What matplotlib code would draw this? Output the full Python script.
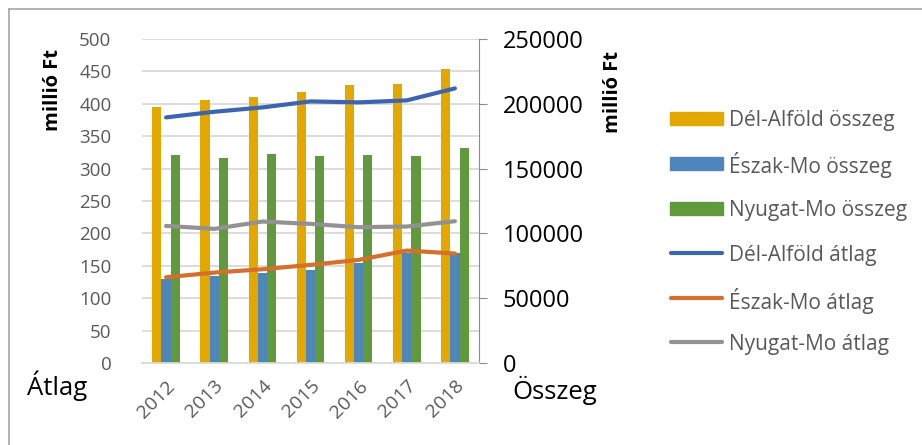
import matplotlib
matplotlib.use("Agg")
import matplotlib.pyplot as plt
import matplotlib.transforms as mtransforms
import numpy as np
from matplotlib.lines import Line2D
from matplotlib.patches import Rectangle

years = ["2012", "2013", "2014", "2015", "2016", "2017", "2018"]
del_alfold_osszeg = [197200, 202600, 205200, 208800, 214200, 215000, 226800]
eszak_mo_osszeg = [64600, 66900, 69800, 71800, 77000, 84700, 84700]
nyugat_mo_osszeg = [160400, 157800, 161200, 159900, 160200, 159600, 166100]
del_alfold_atlag = [379.0, 387.7, 394.4, 403.7, 402.2, 405.3, 423.8]
eszak_mo_atlag = [132.3, 139.5, 144.7, 151.4, 159.1, 173.5, 168.9]
nyugat_mo_atlag = [211.6, 207.0, 218.3, 214.7, 209.6, 210.6, 218.8]

C_YEL = "#E3A800"
C_BLU = "#4E86BC"
C_GRN = "#63993D"
C_LBLU = "#3D64AE"
C_ORA = "#D5702B"
C_GRY = "#929292"
TXT = "#595959"
FONT = "Open Sans"

fig = plt.figure(figsize=(9.22, 4.45), dpi=100)
W, H = 922, 445
ax = fig.add_axes([142 / W, 1 - 363 / H, (479 - 142) / W, (363 - 39) / H])
ax2 = ax.twinx()

x = np.arange(len(years))
bw = 0.191
ax2.bar(x - bw, del_alfold_osszeg, bw, color=C_YEL, zorder=2)
ax2.bar(x, eszak_mo_osszeg, bw, color=C_BLU, zorder=2)
ax2.bar(x + bw, nyugat_mo_osszeg, bw, color=C_GRN, zorder=2)
ax2.set_ylim(0, 250000)
ax2.set_yticks(np.arange(0, 250001, 50000))

ax.set_zorder(ax2.get_zorder() + 1)
ax.patch.set_visible(False)
lw = 3.0
ax.plot(x, del_alfold_atlag, color=C_LBLU, lw=lw, solid_capstyle="round")
ax.plot(x, eszak_mo_atlag, color=C_ORA, lw=lw, solid_capstyle="round")
ax.plot(x, nyugat_mo_atlag, color=C_GRY, lw=lw, solid_capstyle="round")
ax.set_ylim(0, 500)
ax.set_yticks(np.arange(0, 501, 50))
ax.set_xlim(-0.5, len(years) - 0.5)
ax.set_xticks(x)
ax.set_xticklabels(years, rotation=45, ha="right", rotation_mode="anchor",
                   fontsize=14, color=TXT, family=FONT)
off = mtransforms.ScaledTranslation(-9 / 100, -10 / 100, fig.dpi_scale_trans)
for t in ax.get_xticklabels():
    t.set_transform(t.get_transform() + off)

for gy in np.arange(50, 501, 50):
    ax2.axhline(gy * 500, color="#D9D9D9", lw=1.3, zorder=0)

for a in (ax, ax2):
    for s in a.spines.values():
        s.set_visible(False)
ax.spines["bottom"].set_visible(True)
ax.spines["bottom"].set_color("#D9D9D9")
ax.spines["bottom"].set_linewidth(1.3)
ax2.spines["right"].set_visible(True)
ax2.spines["right"].set_color("#8C8C8C")

ax.tick_params(axis="y", length=0, pad=22, labelsize=13.5, labelcolor=TXT)
ax.tick_params(axis="x", length=0, pad=10)
for t in ax.get_yticklabels():
    t.set_family(FONT)
ax2.tick_params(axis="y", length=6, direction="out", color="#8C8C8C", pad=11,
                labelsize=17, labelcolor="black")
for t in ax2.get_yticklabels():
    t.set_family(FONT)

fig.text(53 / W, 1 - 90 / H, "millió Ft", rotation=90, ha="center", va="center",
         fontsize=14.5, fontweight="bold", family=FONT)
fig.text(613 / W, 1 - 92 / H, "millió Ft", rotation=90, ha="center", va="center",
         fontsize=14.5, fontweight="bold", family=FONT)
fig.text(27 / W, 1 - 386 / H, "Átlag", ha="left", va="center", fontsize=18.5, family=FONT)
fig.text(512 / W, 1 - 390 / H, "Összeg", ha="left", va="center", fontsize=18.5, family=FONT)

# legend drawn manually
labels = ["Dél-Alföld összeg", "Észak-Mo összeg", "Nyugat-Mo összeg",
          "Dél-Alföld átlag", "Észak-Mo átlag", "Nyugat-Mo átlag"]
kinds = ["bar", "bar", "bar", "line", "line", "line"]
colors = [C_YEL, C_BLU, C_GRN, C_LBLU, C_ORA, C_GRY]
row_y = [118, 163, 208, 253, 298, 342]
hx0, hx1, tx = 670, 723, 729
for lab, kind, col, ry in zip(labels, kinds, colors, row_y):
    yf = 1 - ry / H
    if kind == "bar":
        fig.add_artist(Rectangle((hx0 / W, yf - 6.5 / H), (hx1 - hx0) / W, 13 / H,
                                 color=col, transform=fig.transFigure))
    else:
        fig.add_artist(Line2D([(hx0 + 1) / W, (hx1 - 1) / W], [yf, yf], color=col, lw=3,
                              solid_capstyle="round", transform=fig.transFigure))
    fig.text(tx / W, yf, lab, ha="left", va="center_baseline", fontsize=15,
             color=TXT, family=FONT)

fig.add_artist(Line2D([9 / W, 1], [1 - 9 / H, 1 - 9 / H], color="#A6A6A6", lw=1.2,
                      transform=fig.transFigure))
fig.add_artist(Line2D([9 / W, 9 / W], [0, 1 - 9 / H], color="#A6A6A6", lw=1.2,
                      transform=fig.transFigure))

fig.savefig("out.png", dpi=100)
